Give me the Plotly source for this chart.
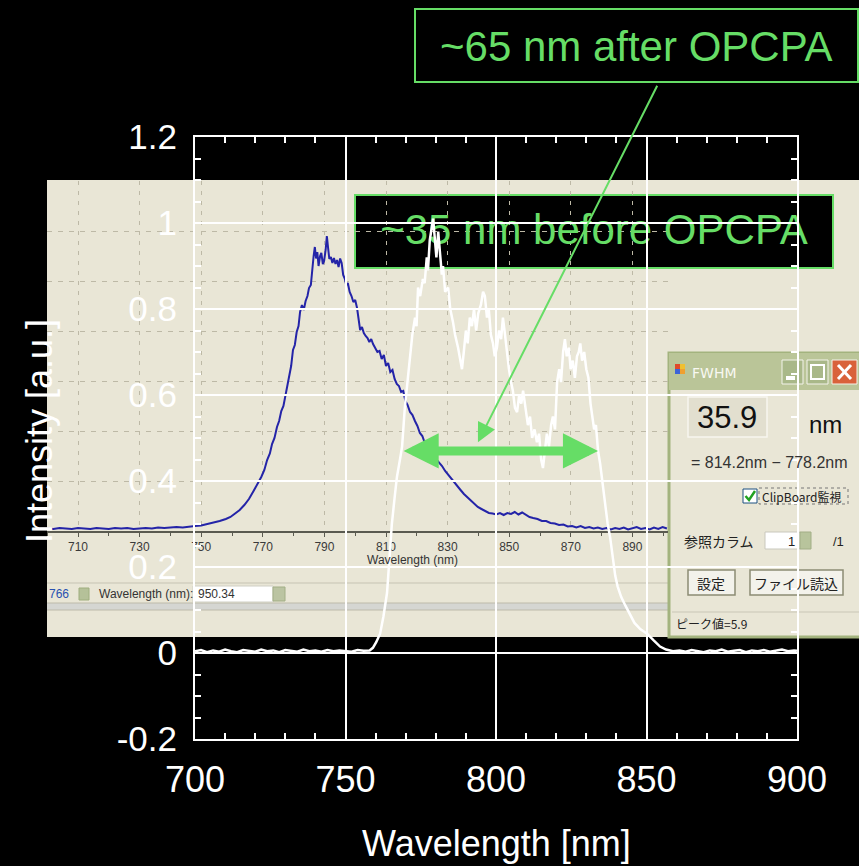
import plotly.graph_objects as go

W, H = 859, 866

# ---------------- data ----------------
# white curve: spectrum after OPCPA (main axes, wavelength nm / intensity a.u.)
after_wl = [700, 702, 704, 706, 708, 710, 712, 714, 716, 718, 720, 722, 724, 726, 728, 730,
            732, 734, 736, 738, 740, 742, 744, 746, 748, 750, 752, 754, 756, 758.0, 759.1,
            760.2, 761.5, 762.6, 763.8, 764.6, 765.4, 766.3, 767.1, 768.1, 768.8, 769.7, 770.8,
            771.5, 772.2, 773.1, 773.6, 774.1, 774.8, 775.7, 776.3, 777.0, 777.4, 778.0, 778.7,
            779.1, 779.6, 780.2, 780.8, 781.4, 782.0, 782.4, 783.1, 784.1, 784.8, 785.7, 786.4,
            787.4, 788.0, 788.7, 789.3, 790.0, 790.6, 791.3, 792.0, 792.7, 793.4, 794.1, 795.0,
            795.7, 796.3, 797.0, 797.6, 798.3, 799.0, 799.6, 800.3, 801.0, 801.7, 802.3, 803.0,
            803.6, 804.3, 805.0, 805.6, 806.3, 807.0, 807.7, 808.4, 809.0, 809.8, 810.6, 811.3,
            812.0, 812.8, 813.6, 814.3, 815.0, 815.6, 816.2, 816.9, 817.6, 818.3, 818.9, 819.6,
            820.3, 821.0, 821.6, 822.3, 822.9, 823.5, 824.2, 824.8, 825.5, 826.2, 826.9, 827.5,
            828.0, 828.6, 829.3, 830.0, 830.7, 831.4, 832.0, 832.6, 833.2, 833.9, 834.6, 835.5,
            836.3, 837.1, 837.9, 838.8, 839.6, 840.4, 841.6, 843.0, 844.5, 846.0, 848.0, 850.2,
            852.3, 854.5, 856.5, 858.8, 861, 863, 865, 867, 869, 871, 873, 875, 877, 879, 881,
            883, 885, 887, 889, 891, 893, 895, 897, 899, 900]
after_int = [0.004, 0.007, 0.002, 0.006, 0.003, 0.008, 0.004, 0.002, 0.007, 0.005, 0.003, 0.008,
             0.004, 0.006, 0.002, 0.007, 0.005, 0.003, 0.008, 0.004, 0.006, 0.003, 0.007, 0.004,
             0.006, 0.005, 0.003, 0.007, 0.005, 0.006, 0.012, 0.025, 0.045, 0.085, 0.14, 0.22,
             0.30, 0.36, 0.41, 0.45, 0.48, 0.57, 0.65, 0.70, 0.74, 0.78, 0.76, 0.85, 0.83, 0.87,
             0.86, 0.92, 0.89, 0.96, 0.99, 1.01, 0.97, 0.92, 0.98, 0.93, 0.88, 0.90, 0.84, 0.85,
             0.80, 0.77, 0.74, 0.71, 0.69, 0.66, 0.70, 0.75, 0.72, 0.78, 0.76, 0.80, 0.75, 0.79,
             0.81, 0.84, 0.83, 0.78, 0.80, 0.74, 0.72, 0.69, 0.71, 0.75, 0.73, 0.78, 0.74, 0.70,
             0.66, 0.63, 0.61, 0.57, 0.56, 0.60, 0.58, 0.61, 0.57, 0.53, 0.55, 0.50, 0.52, 0.49,
             0.51, 0.45, 0.43, 0.47, 0.51, 0.48, 0.53, 0.55, 0.52, 0.63, 0.66, 0.63, 0.70, 0.73,
             0.69, 0.71, 0.66, 0.68, 0.64, 0.69, 0.70, 0.72, 0.68, 0.70, 0.66, 0.64, 0.58, 0.55,
             0.52, 0.53, 0.47, 0.44, 0.39, 0.34, 0.30, 0.27, 0.22, 0.18, 0.155, 0.13, 0.11, 0.09,
             0.07, 0.055, 0.045, 0.03, 0.015, 0.008, 0.004, 0.006, 0.003, 0.007, 0.004, 0.002,
             0.006, 0.004, 0.008, 0.003, 0.005, 0.007, 0.002, 0.006, 0.004, 0.007, 0.003, 0.005,
             0.008, 0.004, 0.006, 0.005]

# blue curve: spectrum before OPCPA (embedded screenshot, its own axes, peak = 5.9)
before_wl = [700, 702, 704, 706, 708, 710, 712, 714, 716, 718, 720, 722, 724, 726, 728, 730, 732,
             734, 736, 738, 740, 742, 744, 746, 748, 750, 752, 754, 756, 758, 759.5, 761, 762.5,
             764, 765.5, 767, 768.3, 769.5, 770.5, 771.4, 772.3, 773, 773.8, 774.6, 775.3, 776,
             776.7, 777.4, 778.0, 778.6, 779.2, 779.8, 780.4, 781.0, 781.6, 782.1, 782.7, 783.3,
             783.9, 784.5, 785.0, 785.6, 786.1, 786.5, 786.9, 787.3, 787.7, 788.1, 788.6, 789.0,
             789.5, 789.9, 790.4, 790.8, 791.2, 791.6, 792.1, 792.6, 793.1, 793.6, 794.1, 794.6,
             795.1, 795.6, 796.1, 796.6, 797.1, 797.6, 798.2, 798.8, 799.4, 800.0, 800.6, 801.1,
             801.6, 802.2, 802.8, 803.4, 804.0, 804.6, 805.2, 805.8, 806.5, 807.2, 807.9, 808.6,
             809.3, 810.0, 810.7, 811.4, 812.1, 812.8, 813.5, 814.2, 814.9, 815.6, 816.3, 817.0,
             817.8, 818.6, 819.4, 820.2, 821.0, 821.8, 822.6, 823.4, 824.3, 825.2, 826.2, 827.2,
             828.2, 829.2, 830.2, 831.2, 832.2, 833.2, 834.2, 835.3, 836.4, 837.5, 838.6, 839.8,
             841.0, 842.2, 843.4, 844.6, 845.8, 847.0, 848.2, 849.4, 850.6, 851.8, 853.0, 854.2,
             855.4, 856.6, 857.8, 859.2, 860.6, 862.0, 863.4, 864.8, 866.2, 867.6, 869.0, 870.4,
             871.8, 873.2, 874.6, 876.0, 877.4, 878.8, 880.2, 881.6, 883.0, 884.4, 885.8, 887.2,
             888.6, 890.0, 891.4, 892.8, 894.2, 895.6, 897.0, 898.4, 899.8, 901.2]
before_val = [0.05, 0.04, 0.06, 0.05, 0.04, 0.06, 0.05, 0.04, 0.06, 0.05, 0.04, 0.06, 0.05, 0.06,
              0.04, 0.05, 0.06, 0.05, 0.07, 0.06, 0.07, 0.08, 0.07, 0.09, 0.10, 0.11, 0.14, 0.16,
              0.20, 0.24, 0.28, 0.35, 0.42, 0.52, 0.64, 0.80, 0.94, 1.08, 1.22, 1.42, 1.55, 1.74,
              1.86, 2.08, 2.20, 2.40, 2.50, 2.72, 2.86, 3.10, 3.30, 3.62, 3.72, 3.98, 4.10, 4.38,
              4.52, 4.42, 4.60, 4.70, 4.86, 4.92, 5.30, 5.50, 5.68, 5.45, 5.58, 5.30, 5.50, 5.56,
              5.34, 5.40, 5.62, 5.90, 5.66, 5.44, 5.48, 5.36, 5.46, 5.34, 5.42, 5.28, 5.45, 5.36,
              5.12, 5.05, 4.92, 4.96, 4.78, 4.70, 4.58, 4.62, 4.46, 4.20, 4.02, 4.08, 3.96, 3.90,
              3.86, 3.78, 3.84, 3.74, 3.66, 3.58, 3.60, 3.44, 3.52, 3.30, 3.36, 3.18, 3.22, 3.04,
              2.94, 2.90, 2.78, 2.80, 2.60, 2.52, 2.38, 2.32, 2.20, 2.10, 1.96, 1.90, 1.76, 1.70,
              1.58, 1.54, 1.44, 1.38, 1.30, 1.20, 1.12, 1.06, 0.96, 0.88, 0.82, 0.74, 0.68, 0.60,
              0.54, 0.48, 0.44, 0.40, 0.36, 0.35, 0.33, 0.36, 0.32, 0.36, 0.34, 0.38, 0.33, 0.37,
              0.32, 0.28, 0.26, 0.24, 0.20, 0.20, 0.16, 0.15, 0.12, 0.13, 0.09, 0.10, 0.07, 0.10,
              0.06, 0.08, 0.05, 0.07, 0.04, 0.06, 0.03, 0.06, 0.04, 0.07, 0.03, 0.05, 0.08, 0.04,
              0.06, 0.03, 0.07, 0.04, 0.08, 0.05]

main_xticks = [700, 750, 800, 850, 900]
main_xticktext = ["700", "750", "800", "850", "900"]
main_yticks = [-0.2, 0, 0.2, 0.4, 0.6, 0.8, 1.0, 1.2]
main_yticktext = ["-0.2", "0", "0.2", "0.4", "0.6", "0.8", "1", "1.2"]
shot_xticks = [710, 730, 750, 770, 790, 810, 830, 850, 870, 890]
shot_xticktext = ["710", "730", "750", "770", "790", "810", "830", "850", "870", "890"]

# FWHM arrow (before OPCPA width) in main coordinates
fwhm_left, fwhm_right, fwhm_level = 768.8, 833.9, 0.47
pointer_tip = (794.0, 0.49)

GREEN = "#66DD66"
FONT = "Liberation Sans"
JP = "Noto Sans CJK JP"


def fx(px):
    return px / W


def fy(py):
    return 1 - py / H


shapes = []
annos = []


def rect(x0, y0, x1, y1, fill, line=None, lw=0, layer="below", dash="solid"):
    shapes.append(dict(type="rect", xref="paper", yref="paper",
                       x0=fx(x0), x1=fx(x1), y0=fy(y0), y1=fy(y1),
                       fillcolor=fill, layer=layer,
                       line=dict(color=line or fill, width=lw, dash=dash)))


def seg(x0, y0, x1, y1, color, lw=1, layer="below"):
    shapes.append(dict(type="line", xref="paper", yref="paper",
                       x0=fx(x0), x1=fx(x1), y0=fy(y0), y1=fy(y1), layer=layer,
                       line=dict(color=color, width=lw)))


def txt(s, x, y, size, color="#222", xanchor="center", family=FONT, angle=0):
    annos.append(dict(text=s, xref="paper", yref="paper", x=fx(x), y=fy(y),
                      xanchor=xanchor, yanchor="middle", showarrow=False, textangle=angle,
                      font=dict(size=size, color=color, family=family)))


# ---------- embedded screenshot background ----------
rect(47, 180, 870, 637, "#E9E6D6")
seg(47, 583, 669, 583, "#C6C3B3", 1)
rect(47, 603, 669, 610, "#D5D6D2")
seg(47, 603, 669, 603, "#BDBAAA", 1)
seg(47, 610, 669, 610, "#BDBAAA", 1)
# status row controls
txt("766", 47, 594, 12, "#2850B0", xanchor="left")
rect(79, 588, 89, 600, "#B5C199", "#9FAE7E", 1)
txt("Wavelength (nm):", 97, 594, 12, "#333", xanchor="left")
rect(193, 586, 273, 602, "#FFFFFF", "#CFCFC4", 1)
txt("950.34", 196, 594, 12, "#333", xanchor="left")
rect(273, 587, 285, 601, "#BBC4A2", "#A2AE86", 1)
txt("Wavelength (nm)", 412, 560, 12, "#333")

# ---------- FWHM dialog ----------
rect(669, 353, 870, 637, "#E9E6D6", "#A3B37E", 3)
rect(669, 353, 870, 390, "#BAC598")
rect(675, 364, 680, 369, "#E04A2A")
rect(680, 364, 685, 369, "#F0C030")
rect(675, 369, 680, 374, "#3C64D8")
rect(680, 369, 685, 374, "#F0A030")
txt("FWHM", 690, 373, 14, "#F8F8F2", xanchor="left", family="DejaVu Sans")
rect(782, 360, 803, 384, "#A9B889", "#F3F3EA", 1)
rect(786, 376, 795, 380, "#FFFFFF")
rect(807, 360, 828, 384, "#A9B889", "#F3F3EA", 1)
rect(811, 365, 824, 379, "rgba(0,0,0,0)", "#FFFFFF", 2)
rect(832, 360, 857, 384, "#D9623B", "#F3F3EA", 1)
seg(838, 365, 851, 379, "#FFFFFF", 3)
seg(838, 379, 851, 365, "#FFFFFF", 3)
rect(688, 397, 767, 437, "#E2DFCF", "#F7F6F0", 1.5)
txt("35.9", 727, 418, 31, "#111")
txt("nm", 825, 424, 24, "#111")
txt("= 814.2nm − 778.2nm", 769, 462, 16, "#333")
rect(743, 489, 757, 503, "#FFFFFF", "#1C5180", 1)
shapes.append(dict(type="path", xref="paper", yref="paper", layer="below",
                   path="M {} {} L {} {} L {} {}".format(fx(745.5), fy(496), fx(749), fy(500),
                                                        fx(755), fy(491)),
                   line=dict(color="#21A121", width=2.5)))
rect(759, 488, 848, 504, "rgba(0,0,0,0)", "#777", 1, dash="dot")
txt("ClipBoard監視", 760, 496, 12, "#222", xanchor="left", family=JP)
txt("参照カラム", 719, 541, 14, "#222", family=JP)
rect(765, 532, 800, 549, "#FFFFFF", "#C9C8BD", 1)
txt("1", 797, 541, 13, "#222", xanchor="right")
rect(800, 532, 811, 549, "#B8C49C", "#A2AE86", 1)
txt("/1", 838, 541, 13, "#222")
rect(688, 570, 735, 595, "#F3F2EB", "#8C8C74", 1.5)
txt("設定", 711, 583, 14, "#222", family=JP)
rect(750, 570, 843, 595, "#F3F2EB", "#8C8C74", 1.5)
txt("ファイル読込", 796, 583, 14, "#222", family=JP)
seg(672, 612, 870, 612, "#C9C6B6", 1)
txt("ピーク値=5.9", 674, 623, 12, "#222", xanchor="left", family=JP)

# ---------- green boxes ----------
rect(415, 9, 858, 82, "#000000", GREEN, 2)
txt("~65 nm after OPCPA", 636.5, 46, 42, GREEN)
rect(355, 195, 833, 268, "#000000", GREEN, 2)

# ---------- main axis titles ----------
txt("Wavelength [nm]", 496, 843, 36, "#FFFFFF")
txt("Intensity [a.u.]", 40, 431, 36, "#FFFFFF", angle=-90)

# ---------- arrows ----------
annos.append(dict(xref="x2", yref="y2", axref="x2", ayref="y2",
                  x=fwhm_right, y=fwhm_level, ax=fwhm_left, ay=fwhm_level, text="",
                  showarrow=True, arrowside="end+start", arrowhead=2, startarrowhead=2,
                  arrowwidth=9, arrowsize=0.78, startarrowsize=0.78, arrowcolor=GREEN))
annos.append(dict(xref="x2", yref="y2", x=pointer_tip[0], y=pointer_tip[1],
                  ax=180, ay=-358, text="", showarrow=True, arrowhead=2,
                  arrowwidth=2, arrowsize=1.9, arrowcolor=GREEN))

fig = go.Figure()

# screenshot subplot (x, y) — drawn first, underneath
fig.add_trace(go.Scatter(x=before_wl, y=before_val, xaxis="x", yaxis="y", mode="lines",
                         line=dict(color="#2424A8", width=2), hoverinfo="skip",
                         showlegend=False))
fig.add_trace(go.Scatter(x=[710 + (594 - 78) / 3.08], y=[(531 - 233) / 50], xaxis="x", yaxis="y",
                         mode="text", text=["~35 nm before OPCPA"], textposition="middle center",
                         cliponaxis=False,
                         textfont=dict(size=42, color=GREEN, family=FONT),
                         hoverinfo="skip", showlegend=False))

# main subplot (x2, y2) — drawn on top
fig.add_trace(go.Scatter(x=after_wl, y=after_int, xaxis="x2", yaxis="y2", mode="lines",
                         line=dict(color="#FFFFFF", width=2.5), hoverinfo="skip",
                         showlegend=False))

fig.update_layout(
    width=W, height=H, autosize=False,
    margin=dict(l=0, r=0, t=0, b=0, pad=0, autoexpand=False),
    paper_bgcolor="#000000", plot_bgcolor="rgba(0,0,0,0)",
    font=dict(family=FONT, color="#FFFFFF"),
    showlegend=False,
    shapes=shapes, annotations=annos,
    xaxis=dict(domain=[fx(47), fx(668)], anchor="y", automargin=False,
               range=[710 - 31 / 3.08, 710 + 590 / 3.08],
               tickmode="array", tickvals=shot_xticks, ticktext=shot_xticktext,
               tickfont=dict(size=12, color="#3A3A3A", family=FONT),
               ticks="outside", ticklen=4, tickcolor="#5A5A50", tickwidth=1,
               minor=dict(dtick=10, tick0=700, ticks="outside", ticklen=3, tickcolor="#5A5A50",
                          showgrid=False),
               showline=True, linecolor="#5A5A50", linewidth=2,
               showgrid=True, gridcolor="#BDB9A6", gridwidth=1, griddash="4px,6px",
               zeroline=False, fixedrange=True),
    yaxis=dict(domain=[fy(531), fy(181)], anchor="x", range=[0, 7], dtick=1, automargin=False,
               showticklabels=False, ticks="", showline=False, zeroline=False,
               showgrid=True, gridcolor="#BDB9A6", gridwidth=1, griddash="5px,6px",
               fixedrange=True),
    xaxis2=dict(domain=[fx(195), fx(797)], anchor="y2", range=[700, 900], automargin=False,
                tickmode="array", tickvals=main_xticks, ticktext=main_xticktext,
                tickfont=dict(size=36, color="#FFFFFF", family=FONT),
                ticks="inside", ticklen=6, tickwidth=1.5, tickcolor="#FFFFFF",
                minor=dict(dtick=10, tick0=700, ticks="inside", ticklen=6, tickwidth=1.5,
                           tickcolor="#FFFFFF", showgrid=False),
                ticklabelstandoff=8,
                showline=True, linecolor="#FFFFFF", linewidth=2, mirror="ticks",
                showgrid=True, gridcolor="#FFFFFF", gridwidth=1.5, zeroline=False,
                fixedrange=True),
    yaxis2=dict(domain=[fy(739), fy(137)], anchor="x2", range=[-0.2, 1.2], automargin=False,
                tickmode="array", tickvals=main_yticks, ticktext=main_yticktext,
                tickfont=dict(size=35, color="#FFFFFF", family=FONT),
                ticks="inside", ticklen=6, tickwidth=1.5, tickcolor="#FFFFFF",
                minor=dict(dtick=0.05, tick0=0, ticks="inside", ticklen=6, tickwidth=1.5,
                           tickcolor="#FFFFFF", showgrid=False),
                ticklabelstandoff=9,
                showline=True, linecolor="#FFFFFF", linewidth=2, mirror="ticks",
                showgrid=True, gridcolor="#FFFFFF", gridwidth=1.5, zeroline=False,
                fixedrange=True),
)

fig.write_html("out.html")
